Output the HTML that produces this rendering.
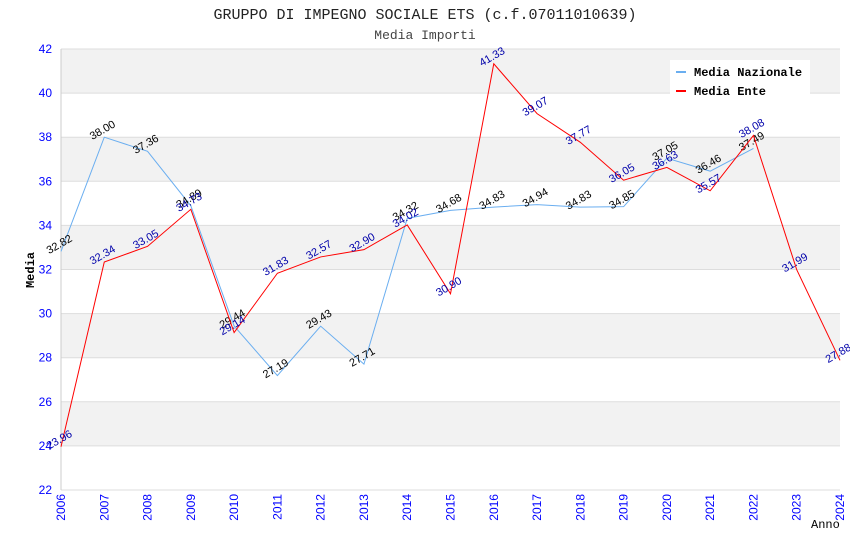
<!DOCTYPE html>
<html><head><meta charset="utf-8"><style>
body{margin:0;background:#fff;width:850px;height:550px;overflow:hidden}
svg text{font-family:"Liberation Mono",monospace}
svg text.s{font-family:"Liberation Sans",sans-serif}
</style></head><body>
<svg id="c" width="850" height="550"></svg>
<script>
const years=[2006,2007,2008,2009,2010,2011,2012,2013,2014,2015,2016,2017,2018,2019,2020,2021,2022,2023,2024];
const nazionale=[32.82,38.00,37.36,34.89,29.44,27.19,29.43,27.71,34.32,34.68,34.83,34.94,34.83,34.85,37.05,36.46,37.49];
const ente=[23.96,32.34,33.05,34.73,29.14,31.83,32.57,32.90,34.02,30.90,41.33,39.07,37.77,36.05,36.63,35.57,38.08,31.99,27.88];
const yTicks=[22,24,26,28,30,32,34,36,38,40,42];
const NS="http://www.w3.org/2000/svg",svg=document.getElementById('c');
const X0=61,X1=840,Y0=490,Y1=49;
const x=i=>X0+(X1-X0)*i/(years.length-1);
const y=v=>Y0-(v-22)/(42-22)*(Y0-Y1);
function el(t,a,txt){const e=document.createElementNS(NS,t);for(const k in a)e.setAttribute(k,a[k]);if(txt!=null)e.textContent=txt;svg.appendChild(e);return e;}
for(let i=0;i<yTicks.length-1;i++){
  const r=el('rect',{x:X0,y:y(yTicks[i+1]),width:X1-X0,height:y(yTicks[i])-y(yTicks[i+1]),fill:(i%2==1)?'#f2f2f2':'#fff'});
  
  
}
yTicks.forEach(v=>{
  const l=el('line',{x1:X0,x2:X1,y1:y(v),y2:y(v),stroke:'#ddd'});
  
  
  const t=el('text',{class:'s',x:X0-9,y:y(v)+4,'text-anchor':'end','font-size':12,fill:'#00f'},v);
  
  
});
el('line',{x1:X0,x2:X0,y1:Y1,y2:Y0,stroke:'#ccc'});
years.forEach((yr,i)=>{
  const t=el('text',{class:'s',x:x(i)+4,y:Y0+4,transform:`rotate(-90 ${x(i)+4} ${Y0+4})`,'text-anchor':'end','font-size':12,fill:'#00f'},yr);
  
  
});
function series(data,color,lblColor,name){
  const p=el('polyline',{points:data.map((v,i)=>x(i)+','+y(v)).join(' '),fill:'none',stroke:color,'stroke-width':1});
  
  
  data.forEach((v,i)=>{
    const tx=x(i),ty=y(v)-4;
    const t=el('text',{class:'s',x:tx,y:ty,'text-anchor':'middle','font-size':11,fill:lblColor,transform:`rotate(-30 ${tx} ${ty})`},v.toFixed(2));
    
    
  });
}
series(nazionale,'#6aaef0','#000','nazionale');
series(ente,'#f00','#00a','ente');
const t1=el('text',{x:425,y:19,'text-anchor':'middle','font-size':15,fill:'#222'},'GRUPPO DI IMPEGNO SOCIALE ETS (c.f.07011010639)');

const t2=el('text',{x:425,y:39,'text-anchor':'middle','font-size':13,fill:'#444'},'Media Importi');

const ya=el('text',{x:34,y:270,transform:'rotate(-90 34 270)','text-anchor':'middle','font-size':12,'font-weight':'bold',fill:'#000'},'Media');

const xa=el('text',{x:811,y:528,'font-size':12,fill:'#000'},'Anno');

const lg=el('rect',{x:670,y:60,width:140,height:38,fill:'#fff'});

[['Media Nazionale','#6aaef0',72],['Media Ente','#f00',91]].forEach(([n,c,yy])=>{
  const l=el('line',{x1:676,x2:686,y1:yy,y2:yy,stroke:c,'stroke-width':2});
  
  const t=el('text',{x:694,y:yy+4,'font-size':12,'font-weight':'bold',fill:'#000'},n);
  
});
</script>
</body></html>
